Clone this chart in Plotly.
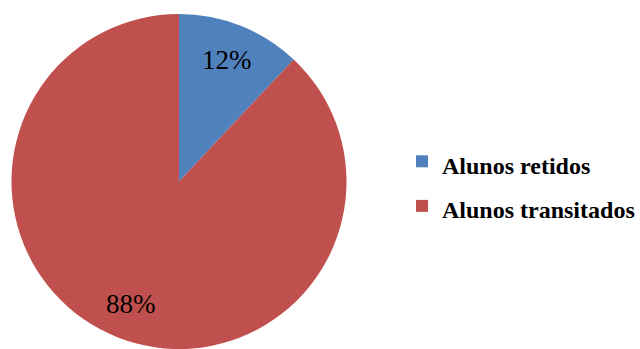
import math
import plotly.graph_objects as go

labels = ["Alunos retidos", "Alunos transitados"]
values = [12, 88]
colors = ["#4F81BD", "#C0504D"]

W, H = 640, 349
SERIF = "Times New Roman, Liberation Serif, DejaVu Serif, serif"
# pie placement in pixels
cx, cy, r = 179, 182, 168

fig = go.Figure(
    go.Pie(
        labels=[f"<span style='font-size:24px'><b>{l}</b></span>" for l in labels],
        values=values,
        marker=dict(colors=colors, line=dict(width=0)),
        sort=False,
        direction="clockwise",
        rotation=0,
        textinfo="none",
        hoverinfo="label+percent",
        domain=dict(x=[(cx - r) / W, (cx + r) / W], y=[max(0, (H - cy - r) / H), (H - cy + r) / H]),
    )
)

# percentage labels placed along each slice's mid-angle
total = sum(values)
start = 0.0
for v in values:
    frac = v / total
    mid = (start + frac / 2) * 2 * math.pi
    px = cx + 0.78 * r * math.sin(mid)
    py = cy - 0.78 * r * math.cos(mid)
    fig.add_annotation(
        x=px / W, y=1 - py / H, xref="paper", yref="paper",
        xanchor="center", yanchor="middle",
        text=f"{round(frac * 100)}%", showarrow=False,
        font=dict(family=SERIF, size=27, color="#000000"),
    )
    start += frac

fig.update_layout(
    width=W, height=H,
    margin=dict(l=0, r=0, t=0, b=0),
    paper_bgcolor="white",
    plot_bgcolor="white",
    showlegend=True,
    legend=dict(
        x=402 / W, xanchor="left",
        y=1 - 184 / H, yanchor="middle",
        font=dict(family=SERIF, size=32, color="#000000"),
        bgcolor="rgba(0,0,0,0)",
    ),
)

fig.write_html("out.html")
